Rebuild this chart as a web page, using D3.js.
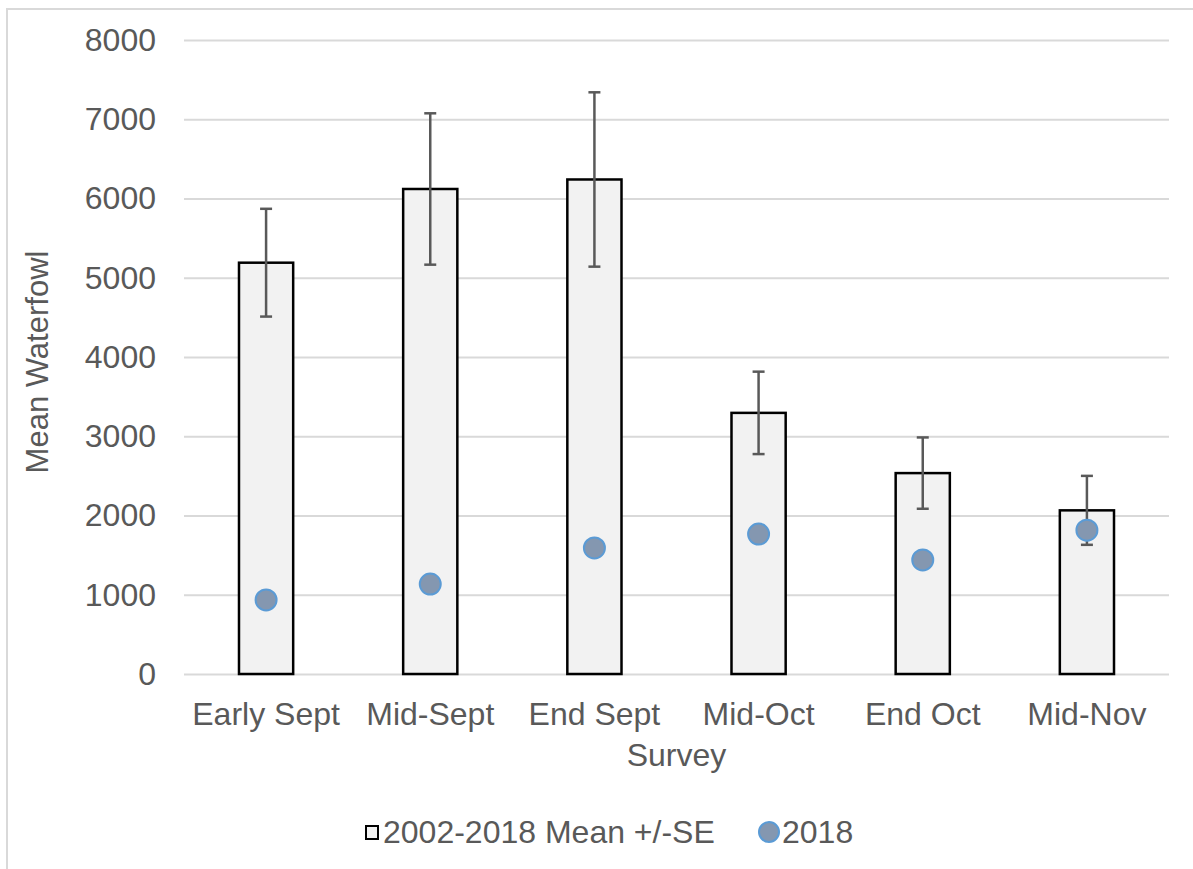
<!DOCTYPE html>
<html>
<head>
<meta charset="utf-8">
<script src="https://cdn.jsdelivr.net/npm/d3@7"></script>
<style>
  html, body { margin: 0; padding: 0; background: #fff; }
  svg { display: block; font-family: "Liberation Sans", Arial, sans-serif; }
</style>
</head>
<body>
<svg id="chart" width="1193" height="869"></svg>
<script>
const categories = ["Early Sept", "Mid-Sept", "End Sept", "Mid-Oct", "End Oct", "Mid-Nov"];
const meanValues = [5190, 6120, 6240, 3295, 2535, 2065];
const seValues = [680, 955, 1100, 520, 450, 435];
const values2018 = [935, 1135, 1590, 1765, 1440, 1815];
const yTicks = [0, 1000, 2000, 3000, 4000, 5000, 6000, 7000, 8000];
const legendLabels = ["2002-2018 Mean +/-SE", "2018"];

const svg = d3.select("#chart");
const W = 1193, H = 869;
const plot = { left: 184, right: 1169, top: 40, bottom: 674 };
const FS = "32px";

// outer border
svg.append("rect")
  .attr("x", 7).attr("y", 9)
  .attr("width", W + 10).attr("height", H + 10)
  .attr("fill", "none").attr("stroke", "#d9d9d9").attr("stroke-width", 2);

const x = d3.scaleBand().domain(categories)
  .range([plot.left, plot.right]).paddingInner(0.67).paddingOuter(0.335);
const y = d3.scaleLinear().domain([0, 8000]).range([plot.bottom, plot.top]);

// gridlines + y tick labels
const yAxis = d3.axisLeft(y).tickValues(yTicks).tickFormat(d3.format("d"))
  .tickSize(-(plot.right - plot.left)).tickPadding(28);
const gy = svg.append("g").attr("transform", `translate(${plot.left},0)`).call(yAxis);
gy.select(".domain").remove();
gy.selectAll(".tick line").attr("stroke", "#d9d9d9").attr("stroke-width", 2);
gy.selectAll(".tick text").attr("fill", "#595959").style("font-size", FS)
  .attr("font-family", "Liberation Sans, Arial, sans-serif");

// bars
svg.append("g").selectAll("rect").data(categories).join("rect")
  .attr("x", d => x(d))
  .attr("y", (d, i) => y(meanValues[i]))
  .attr("width", x.bandwidth())
  .attr("height", (d, i) => y(0) - y(meanValues[i]))
  .attr("fill", "#f2f2f2").attr("stroke", "#000").attr("stroke-width", 2.5);

// error bars
const eb = svg.append("g").attr("stroke", "#595959").attr("stroke-width", 2.5);
categories.forEach((c, i) => {
  const cx = x(c) + x.bandwidth() / 2;
  const hi = y(meanValues[i] + seValues[i]);
  const lo = y(meanValues[i] - seValues[i]);
  eb.append("line").attr("x1", cx).attr("x2", cx).attr("y1", hi).attr("y2", lo);
  eb.append("line").attr("x1", cx - 6).attr("x2", cx + 6).attr("y1", hi).attr("y2", hi);
  eb.append("line").attr("x1", cx - 6).attr("x2", cx + 6).attr("y1", lo).attr("y2", lo);
});

// 2018 points
svg.append("g").selectAll("circle").data(categories).join("circle")
  .attr("cx", d => x(d) + x.bandwidth() / 2)
  .attr("cy", (d, i) => y(values2018[i]))
  .attr("r", 10.5)
  .attr("fill", "#8497b0").attr("stroke", "#5b9bd5").attr("stroke-width", 2);

// x axis labels
const xAxis = d3.axisBottom(x).tickSize(0).tickPadding(28);
const gx = svg.append("g").attr("transform", `translate(0,${plot.bottom})`).call(xAxis);
gx.select(".domain").remove();
gx.selectAll(".tick text").attr("fill", "#595959").style("font-size", FS)
  .attr("font-family", "Liberation Sans, Arial, sans-serif");

// axis titles
svg.append("text").attr("x", (plot.left + plot.right) / 2).attr("y", 766)
  .attr("text-anchor", "middle").attr("fill", "#595959").style("font-size", FS).text("Survey");
svg.append("text").attr("transform", `translate(48,362) rotate(-90)`)
  .attr("text-anchor", "middle").attr("fill", "#595959").style("font-size", "31px").text("Mean Waterfowl");

// legend
const lg = svg.append("g");
lg.append("rect").attr("x", 366).attr("y", 826).attr("width", 12).attr("height", 13)
  .attr("fill", "#f2f2f2").attr("stroke", "#000").attr("stroke-width", 2);
lg.append("text").attr("x", 383).attr("y", 843).attr("fill", "#595959").style("font-size", FS).text(legendLabels[0]);
lg.append("circle").attr("cx", 769).attr("cy", 832).attr("r", 10)
  .attr("fill", "#8497b0").attr("stroke", "#5b9bd5").attr("stroke-width", 2);
lg.append("text").attr("x", 782).attr("y", 843).attr("fill", "#595959").style("font-size", FS).text(legendLabels[1]);
</script>
</body>
</html>
